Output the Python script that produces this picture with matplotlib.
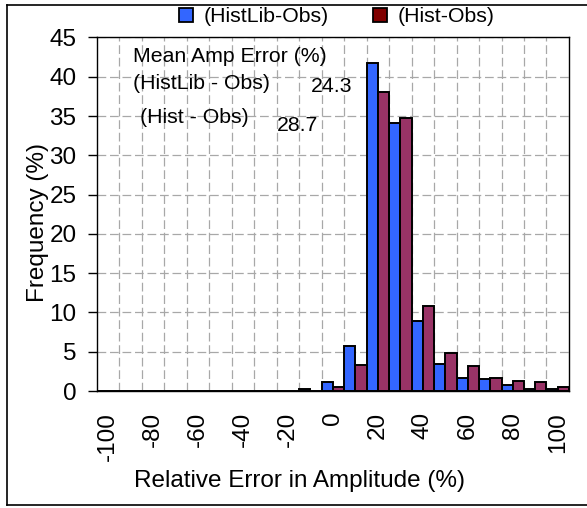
import numpy as np
import matplotlib
matplotlib.use("Agg")
import matplotlib.pyplot as plt
from matplotlib.patches import Patch
from matplotlib.lines import Line2D

plt.rcParams['font.family'] = ['Liberation Sans', 'DejaVu Sans']

# data
bins = [-100, -90, -80, -70, -60, -50, -40, -30, -20, -10, 0,
        10, 20, 30, 40, 50, 60, 70, 80, 90, 100]
histlib_obs = [0, 0, 0, 0, 0, 0, 0, 0, 0, 0.25, 1.15,
               5.7, 41.7, 34.1, 8.9, 3.4, 1.65, 1.57, 0.8, 0.25, 0.3]
hist_obs = [0, 0, 0, 0, 0, 0, 0, 0, 0, 0, 0.47,
            3.35, 38.0, 34.8, 10.8, 4.8, 3.2, 1.7, 1.25, 1.2, 0.45]
tick_labels = ['-100', '-80', '-60', '-40', '-20', '0', '20', '40', '60', '80', '100']
mean_err_histlib = '24.3'
mean_err_hist = '28.7'

blue = '#3366FF'
plum = '#993366'
maroon = '#800000'

fig = plt.figure(figsize=(5.87, 5.08), dpi=100)
ax = fig.add_axes([0.1647, 0.2303, 0.8046, 0.6959])

x = np.arange(len(bins))
ax.bar(x - 0.25, histlib_obs, width=0.5, color=blue, edgecolor='black', linewidth=1.4, zorder=3)
ax.bar(x + 0.25, hist_obs, width=0.5, color=plum, edgecolor='black', linewidth=1.4, zorder=3)

ax.set_xlim(-0.5, len(bins) - 0.5)
ax.set_ylim(0, 45)
ax.set_yticks(np.arange(0, 46, 5))
ax.set_xticks(x[::2])
ax.set_xticklabels(tick_labels, rotation=90)
ax.set_xticks(x[:-1] + 0.5, minor=True)

grid_style = dict(color='#A8A8A8', linestyle=(0, (7, 3)), linewidth=0.9)
ax.grid(axis='y', which='major', zorder=0, **grid_style)
ax.grid(axis='x', which='minor', zorder=0, **grid_style)
ax.grid(axis='x', which='major', visible=False)

ax.tick_params(axis='y', labelsize=17.5, length=6.5, width=1, pad=8, direction='out')
ax.tick_params(axis='x', which='both', labelsize=17.5, length=0, pad=15)
for s in ax.spines.values():
    s.set_linewidth(1.0)
    s.set_color('black')
    s.set_zorder(4)

ax.text(1.10, 42.6, 'Mean Amp Error (%)', fontsize=15.3, va='center')
ax.text(1.13, 39.2, '(HistLib - Obs)', fontsize=15.3, va='center')
ax.text(9.03, 38.7, mean_err_histlib, fontsize=15.3, va='center')
ax.text(1.43, 34.8, '(Hist - Obs)', fontsize=15.3, va='center')
ax.text(7.53, 33.8, mean_err_hist, fontsize=15.3, va='center')

fig.text(38 / 587, 1 - 222 / 508, 'Frequency (%)', rotation=90, fontsize=17.5,
         ha='center', va='center')
fig.text(300 / 587, 1 - 481 / 508, 'Relative Error in Amplitude (%)', fontsize=17.5,
         ha='center', va='center')

handles = [Patch(facecolor=blue, edgecolor='black', linewidth=1.3),
           Patch(facecolor=maroon, edgecolor='black', linewidth=1.3)]
fig.legend(handles, ['(HistLib-Obs)', '(Hist-Obs)'], loc='center',
           bbox_to_anchor=(0.574, 1 - 17 / 508), ncol=2, frameon=False,
           fontsize=15.3, handlelength=0.65, handleheight=0.65,
           handletextpad=0.5, columnspacing=2.1, borderpad=0)

# outer frame (top, left, bottom)
fig.add_artist(Line2D([7 / 587, 1], [1 - 5 / 508, 1 - 5 / 508], color='black', lw=1.2))
fig.add_artist(Line2D([7 / 587, 7 / 587], [1 - 5 / 508, 1 - 505 / 508], color='black', lw=1.2))
fig.add_artist(Line2D([7 / 587, 1], [1 - 505 / 508, 1 - 505 / 508], color='black', lw=1.2))

fig.savefig('out.png', dpi=100)
